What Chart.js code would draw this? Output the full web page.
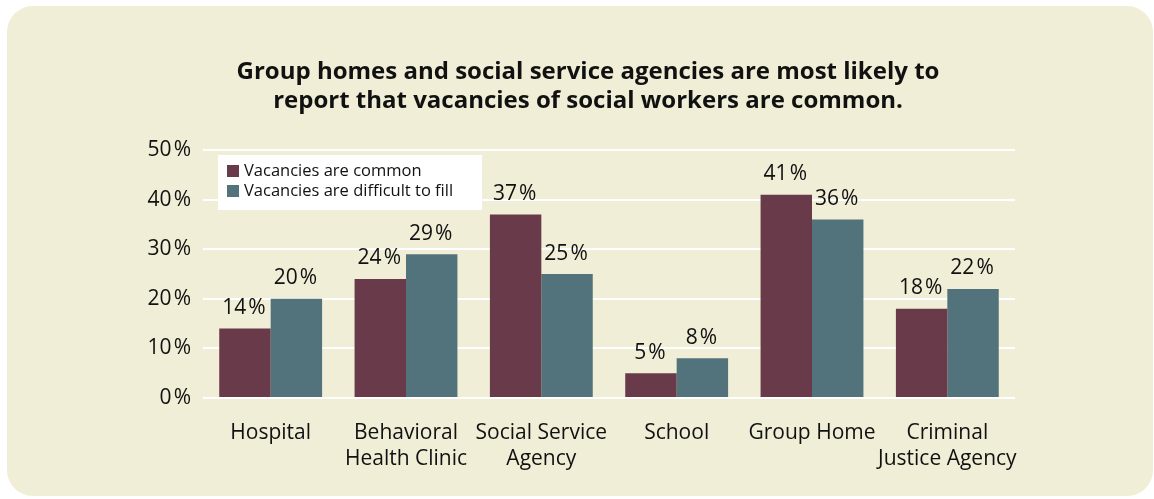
<!DOCTYPE html>
<html>
<head>
<meta charset="utf-8">
<script src="https://cdn.jsdelivr.net/npm/chart.js@4.4.1/dist/chart.umd.min.js"></script>
<style>
  html, body { margin: 0; padding: 0; background: #ffffff; }
  #panel {
    position: absolute;
    left: 7px;
    top: 6px;
    width: 1146px;
    height: 490px;
    background: #f0eed6;
    border-radius: 26px;
  }
  #wrap { position: absolute; left: 0; top: 0; width: 1154px; height: 499px; }
</style>
</head>
<body>
<div id="panel"></div>
<div id="wrap"><canvas id="grafico" width="1154" height="499"></canvas></div>
<script>
const categorias = [
  "Hospital",
  ["Behavioral", "Health Clinic"],
  ["Social Service", "Agency"],
  "School",
  "Group Home",
  ["Criminal", "Justice Agency"]
];
const vacantesComunes = [14, 24, 37, 5, 41, 18];
const vacantesDificiles = [20, 29, 25, 8, 36, 22];
const series = ["Vacancies are common", "Vacancies are difficult to fill"];
const colores = ["#693b4a", "#52737c"];

const fuente = "'Open Sans', 'Noto Sans', sans-serif";

// etiquetas de porcentaje encima de cada barra
const etiquetasBarras = {
  id: "etiquetasBarras",
  afterDatasetsDraw(chart) {
    const ctx = chart.ctx;
    ctx.save();
    ctx.font = "21px " + fuente;
    ctx.fillStyle = "#111111";
    ctx.textAlign = "center";
    ctx.textBaseline = "bottom";
    chart.data.datasets.forEach((ds, i) => {
      chart.getDatasetMeta(i).data.forEach((bar, j) => {
        ctx.fillText(ds.data[j] + "\u200A%", bar.x - 1, bar.y - 10);
      });
    });
    ctx.restore();
  }
};

// leyenda en caja blanca dentro del área del gráfico
const leyendaCaja = {
  id: "leyendaCaja",
  afterDraw(chart) {
    const ctx = chart.ctx;
    const x = 218, y = 155, w = 264, h = 55;
    ctx.save();
    ctx.fillStyle = "#ffffff";
    ctx.fillRect(x, y, w, h);
    ctx.font = "16.5px " + fuente;
    ctx.textBaseline = "middle";
    chart.data.datasets.forEach((ds, i) => {
      const fy = y + 16 + i * 20;
      ctx.fillStyle = ds.backgroundColor;
      ctx.fillRect(x + 9, fy - 6, 12, 12);
      ctx.fillStyle = "#111111";
      ctx.fillText(ds.label, x + 26, fy);
    });
    ctx.restore();
  }
};

new Chart(document.getElementById("grafico"), {
  type: "bar",
  data: {
    labels: categorias,
    datasets: [
      { label: series[0], data: vacantesComunes, backgroundColor: colores[0] },
      { label: series[1], data: vacantesDificiles, backgroundColor: colores[1] }
    ]
  },
  options: {
    responsive: false,
    animation: false,
    layout: { padding: { left: 22, right: 0, top: 0, bottom: 0 } },
    datasets: {
      bar: { categoryPercentage: 0.76, barPercentage: 1.0 }
    },
    plugins: {
      legend: { display: false },
      tooltip: { enabled: false },
      title: {
        display: true,
        text: [
          "Group homes and social service agencies are most likely to",
          "report that vacancies of social workers are common."
        ],
        color: "#111111",
        font: { family: fuente, size: 24, weight: "bold", lineHeight: 1.23 },
        padding: { top: 57, bottom: 34 }
      }
    },
    scales: {
      x: {
        grid: { display: false },
        border: { display: false },
        ticks: {
          color: "#111111",
          font: { family: fuente, size: 21, lineHeight: 1.24 },
          padding: 14,
          maxRotation: 0,
          autoSkip: false
        },
        afterFit(scale) { scale.height = 101; }
      },
      y: {
        min: 0,
        max: 50,
        ticks: {
          stepSize: 10,
          color: "#111111",
          font: { family: fuente, size: 21 },
          padding: 12,
          callback: v => v + "\u200A%"
        },
        grid: { color: "#ffffff", lineWidth: 2, drawTicks: false },
        border: { display: false },
        afterFit(scale) { scale.width = 181; }
      },
      // eje derecho vacío, solo reserva el margen
      margen: {
        type: "linear",
        position: "right",
        display: true,
        grid: { display: false, drawTicks: false },
        border: { display: false },
        ticks: { display: false },
        afterFit(scale) { scale.width = 139; }
      }
    }
  },
  plugins: [etiquetasBarras, leyendaCaja]
});
</script>
</body>
</html>
